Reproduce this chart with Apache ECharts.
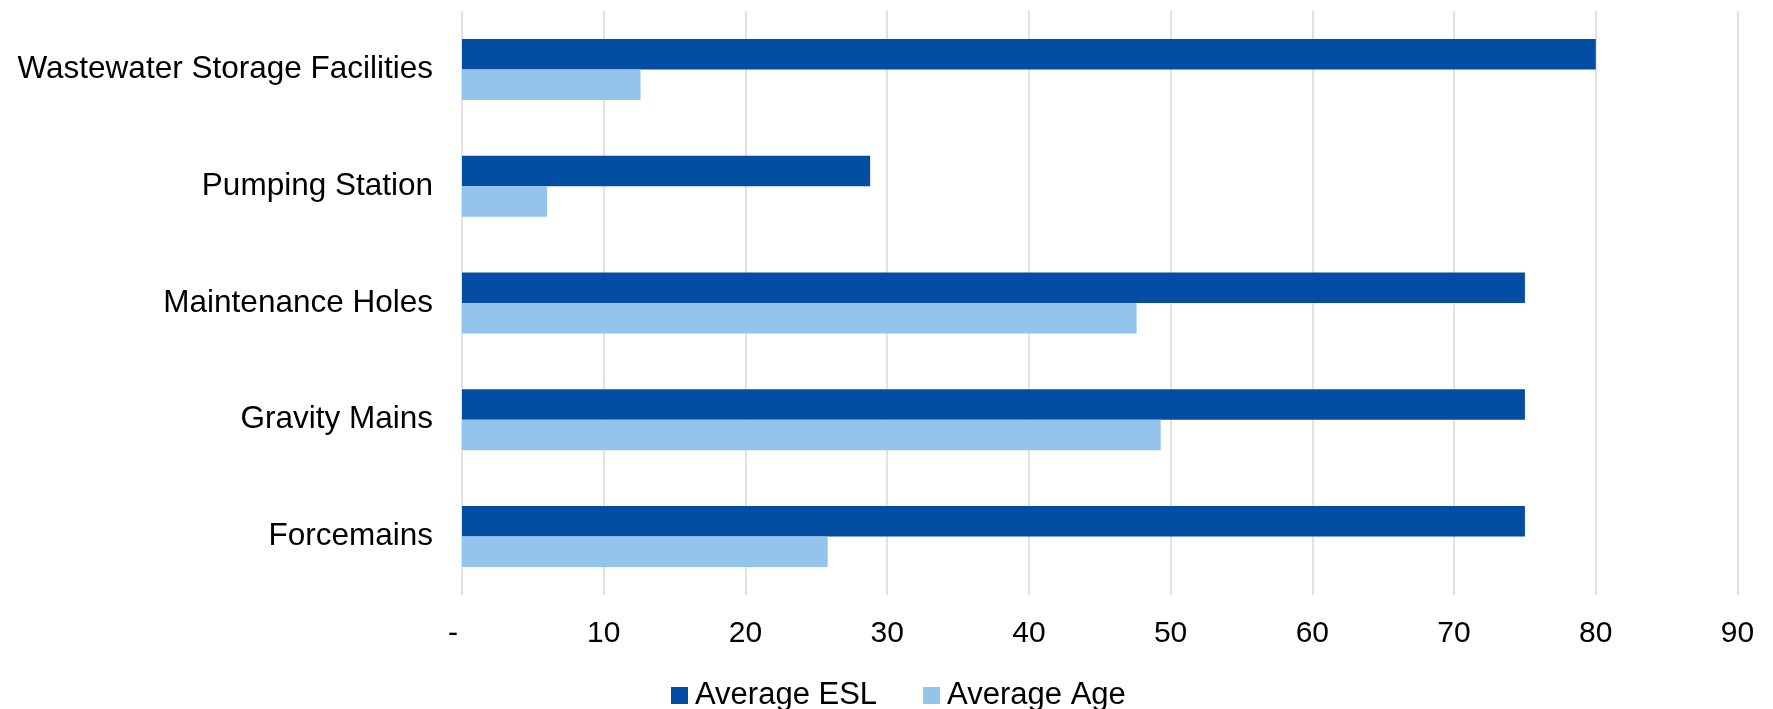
<!DOCTYPE html>
<html>
<head>
<meta charset="utf-8">
<style>
  html, body { margin: 0; padding: 0; background: #ffffff; }
  #chart { width: 1773px; height: 709px; }
</style>
<script src="https://cdn.jsdelivr.net/npm/echarts@6/dist/echarts.min.js"></script>
</head>
<body>
<div id="chart"></div>
<script>
// Asset classes, listed top to bottom
const categories = [
  'Wastewater Storage Facilities',
  'Pumping Station',
  'Maintenance Holes',
  'Gravity Mains',
  'Forcemains'
];
// Average expected service life (years)
const averageESL = [80, 28.8, 75, 75, 75];
// Average age (years)
const averageAge = [12.6, 6.0, 47.6, 49.3, 25.8];
// Value axis ticks
const tickMin = 0;
const tickMax = 90;
const tickStep = 10;

const FONT = '"Liberation Sans", Arial, sans-serif';

const chart = echarts.init(document.getElementById('chart'), null, { renderer: 'canvas' });

chart.setOption({
  animation: false,
  backgroundColor: '#ffffff',
  textStyle: { fontFamily: FONT, color: '#000000' },
  grid: { left: 462, right: 35.5, top: 11, bottom: 114, containLabel: false },
  legend: {
    data: ['Average ESL', 'Average Age'],
    left: 666,
    top: 675,
    icon: 'rect',
    itemWidth: 17,
    itemHeight: 17,
    itemGap: 46,
    textStyle: { fontFamily: FONT, fontSize: 31, color: '#000000', padding: [0, 0, 0, 2] }
  },
  xAxis: {
    type: 'value',
    min: tickMin,
    max: tickMax,
    interval: tickStep,
    axisLine: { show: false },
    axisTick: { show: false },
    splitLine: { show: true, lineStyle: { color: '#d9d9d9', width: 1.5 } },
    axisLabel: {
      fontFamily: FONT,
      fontSize: 30,
      color: '#000000',
      margin: 24,
      formatter: v => (v === 0 ? '{dash|-}' : String(v)),
      rich: {
        dash: { fontFamily: FONT, fontSize: 30, color: '#000000', padding: [0, 18, 0, 0] }
      }
    }
  },
  yAxis: {
    type: 'category',
    data: categories,
    inverse: true,
    axisLine: { show: false },
    axisTick: { show: false },
    splitLine: { show: false },
    axisLabel: { fontFamily: FONT, fontSize: 31.5, color: '#000000', margin: 29, padding: [4, 0, 0, 0] }
  },
  series: [
    {
      name: 'Average ESL',
      type: 'bar',
      data: averageESL,
      barGap: '0%',
      barCategoryGap: '47.8%',
      itemStyle: { color: '#034ea2' }
    },
    {
      name: 'Average Age',
      type: 'bar',
      data: averageAge,
      barGap: '0%',
      barCategoryGap: '47.8%',
      itemStyle: { color: '#93c5ec' }
    }
  ]
});
</script>
</body>
</html>
